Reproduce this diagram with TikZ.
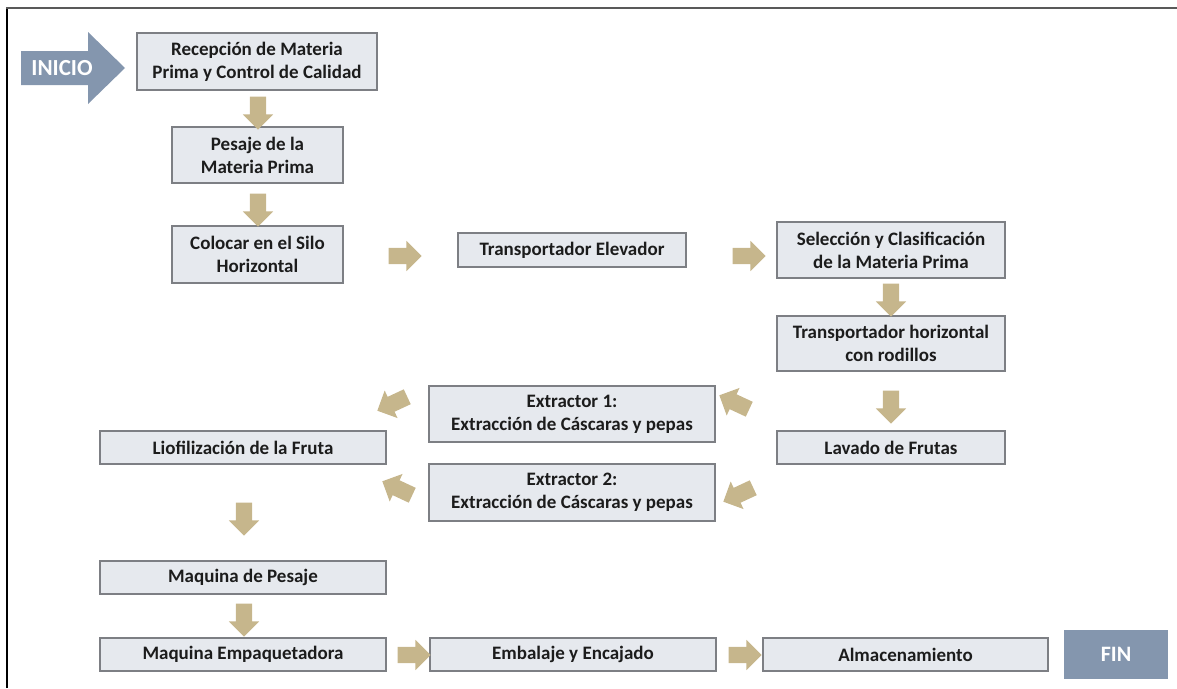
\documentclass[tikz,border=0pt]{standalone}
\usepackage{fontspec}
\setmainfont{Carlito}
\usetikzlibrary{shapes.arrows}
\definecolor{boxfill}{HTML}{E6E9EE}
\definecolor{boxline}{HTML}{7D7F84}
\definecolor{txt}{HTML}{1C1C1C}
\definecolor{tanfill}{HTML}{C6B68C}
\definecolor{slate}{HTML}{8496AE}
\begin{document}
\begin{tikzpicture}[x=1pt,y=-1pt,
  box/.style={draw=boxline, fill=boxfill, line width=1.1pt, text=txt,
    font=\bfseries\fontsize{19}{23}\selectfont, align=center, inner sep=0pt},
  tanarr/.style={single arrow, fill=tanfill, draw=none, minimum height=33pt,
    single arrow head extend=7pt, single arrow tip angle=90,
    inner xsep=0pt, inner ysep=8pt},
  endbox/.style={fill=slate, draw=none, text=white,
    font=\bfseries\fontsize{22}{24}\selectfont, inner sep=0pt},
]
\useasboundingbox (0,0) rectangle (1177,688);
% frame
\draw[line width=1.4pt, black] (7,688) -- (7,8);
\draw[line width=1.8pt, black!65] (6.3,8) -- (1177,8);

% start arrow
\fill[slate] (21,51) -- (88,51) -- (88,32) -- (125,68) -- (88,104) -- (88,85) -- (21,85) -- cycle;
\node[text=white, font=\bfseries\fontsize{23}{24}\selectfont, inner sep=0pt] (inicio) at (62,68) {INICIO};

% process boxes
\node[box, minimum width=240pt, minimum height=57pt] (rec) at (257,61.5) {Recepción de Materia\\Prima y Control de Calidad};
\node[box, minimum width=171pt, minimum height=56pt] (pes) at (257.5,155) {Pesaje de la\\Materia Prima};
\node[box, minimum width=171pt, minimum height=57pt] (col) at (257.5,254.5) {Colocar en el Silo\\Horizontal};
\node[box, minimum width=228pt, minimum height=34pt] (tel) at (572,250) {Transportador Elevador};
\node[box, minimum width=228pt, minimum height=56pt] (sel) at (891,250) {Selección y Clasificación\\de la Materia Prima};
\node[box, minimum width=228pt, minimum height=55pt] (thr) at (891,343.5) {Transportador horizontal\\con rodillos};
\node[box, minimum width=228pt, minimum height=33pt] (lav) at (891,447.5) {Lavado de Frutas};
\node[box, minimum width=286pt, minimum height=56pt] (ex1) at (572,414) {Extractor 1:\\Extracción de Cáscaras y pepas};
\node[box, minimum width=286pt, minimum height=57pt] (ex2) at (572,492.5) {Extractor 2:\\Extracción de Cáscaras y pepas};
\node[box, minimum width=286pt, minimum height=33pt] (lio) at (243,447.5) {Liofilización de la Fruta};
\node[box, minimum width=286pt, minimum height=33pt] (mpe) at (243,577.5) {Maquina de Pesaje};
\node[box, minimum width=286pt, minimum height=33pt] (emp) at (243,654.5) {Maquina Empaquetadora};
\node[box, minimum width=286pt, minimum height=33pt] (emb) at (573,654.5) {Embalaje y Encajado};
\node[box, minimum width=285pt, minimum height=33pt] (alm) at (905.5,654.5) {Almacenamiento};
\node[endbox, minimum width=104pt, minimum height=49pt] (fin) at (1116,654.5) {FIN};

% block arrows between steps
\node[tanarr, rotate=-90] (recpes) at (258,109) {};
\node[tanarr, rotate=-90] (pescol) at (258,206) {};
\node[tanarr] (coltel) at (401,256) {};
\node[tanarr] (telsel) at (745,256) {};
\node[tanarr, rotate=-90] (selthr) at (891,296) {};
\node[tanarr, rotate=-90] (thrlav) at (891,403) {};
\node[tanarr, rotate=155] (lavex1) at (738,404) {};
\node[tanarr, rotate=205] (lavex2) at (742,493) {};
\node[tanarr, rotate=205] (ex1lio) at (396,402) {};
\node[tanarr, rotate=155] (ex2lio) at (401,490) {};
\node[tanarr, rotate=-90] (liompe) at (244,515) {};
\node[tanarr, rotate=-90] (mpeemp) at (244,616) {};
\node[tanarr] (empemb) at (410,655) {};
\node[tanarr] (embalm) at (741,655) {};
\end{tikzpicture}
\end{document}
